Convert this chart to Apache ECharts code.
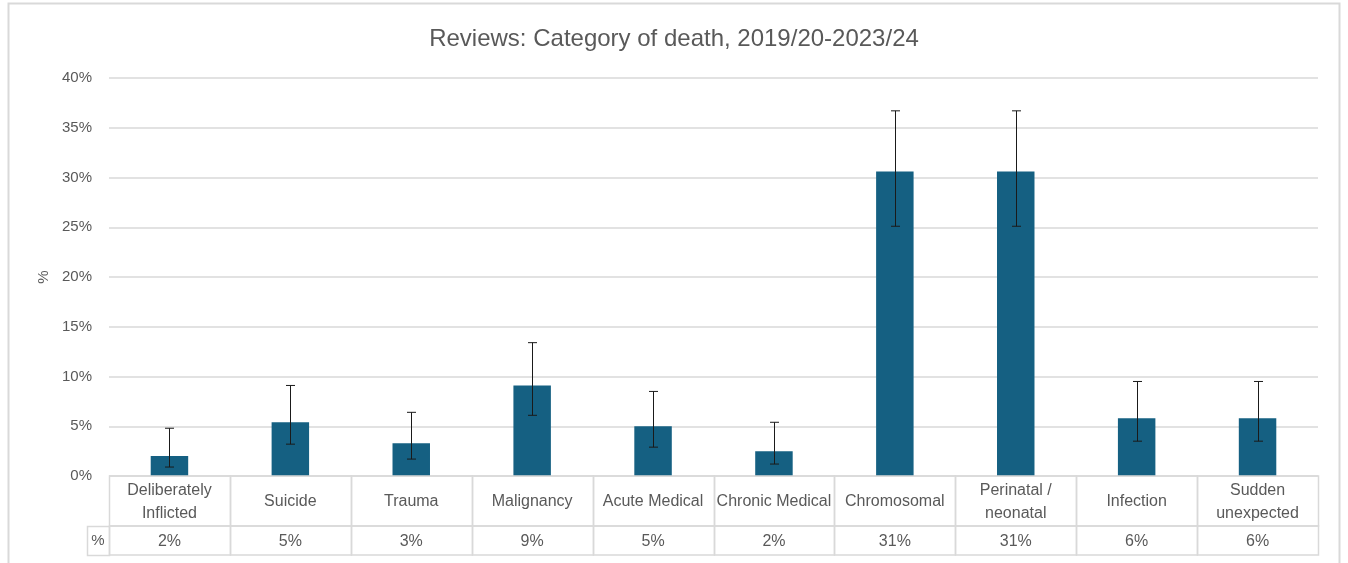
<!DOCTYPE html>
<html>
<head>
<meta charset="utf-8">
<script src="https://cdn.jsdelivr.net/npm/echarts@6/dist/echarts.min.js"></script>
<style>
html,body{margin:0;padding:0;background:#fff;}
#chart{width:1348px;height:563px;}
</style>
</head>
<body>
<div id="chart"></div>
<script>
const categories = ['Deliberately\nInflicted','Suicide','Trauma','Malignancy','Acute Medical','Chronic Medical','Chromosomal','Perinatal /\nneonatal','Infection','Sudden\nunexpected'];
const values = [2.0, 5.4, 3.3, 9.1, 5.0, 2.5, 30.6, 30.6, 5.8, 5.8];
const lowerBounds = [0.9, 3.2, 1.7, 6.1, 2.9, 1.2, 25.1, 25.1, 3.5, 3.5];
const upperBounds = [4.8, 9.1, 6.4, 13.4, 8.5, 5.4, 36.7, 36.7, 9.5, 9.5];
const tableLabels = ['2%','5%','3%','9%','5%','2%','31%','31%','6%','6%'];
const yTicks = [0, 5, 10, 15, 20, 25, 30, 35, 40];

const FONT = '"Liberation Sans", Arial, sans-serif';
const TXT = '#595959';
const GRID = '#D9D9D9';

const chart = echarts.init(document.getElementById('chart'));

const errData = categories.map((c, i) => [i, lowerBounds[i], upperBounds[i]]);
const tableData = categories.map((c, i) => [i, categories[i], tableLabels[i]]);

chart.setOption({
  animation: false,
  backgroundColor: '#fff',
  title: {
    text: 'Reviews: Category of death, 2019/20-2023/24',
    left: 'center',
    top: 22,
    textStyle: {fontFamily: FONT, fontSize: 24, fontWeight: 'normal', color: TXT}
  },
  graphic: [
    {type: 'rect', shape: {x: 8.5, y: 3.5, width: 1331, height: 580}, style: {fill: 'none', stroke: GRID, lineWidth: 2}, silent: true, z: -1},
    {type: 'rect', shape: {x: 87.5, y: 526.5, width: 22, height: 29}, style: {fill: 'none', stroke: GRID, lineWidth: 1.5}, silent: true},
    {type: 'text', x: 98, y: 541, style: {text: '%', fill: TXT, font: '15px ' + FONT, textAlign: 'center', textVerticalAlign: 'middle'}, silent: true}
  ],
  grid: [
    {left: 109, right: 30, top: 78, bottom: 87, containLabel: false},
    {left: 109, right: 30, top: 476, height: 79, containLabel: false}
  ],
  xAxis: [
    {type: 'category', gridIndex: 0, data: categories, boundaryGap: true,
     axisLine: {show: false}, axisTick: {show: false}, axisLabel: {show: false}, splitLine: {show: false}},
    {type: 'category', gridIndex: 1, data: categories, boundaryGap: true, show: false}
  ],
  yAxis: [
    {type: 'value', gridIndex: 0, min: 0, max: 40, interval: 5,
     name: '%', nameLocation: 'middle', nameGap: 56, nameRotate: 90,
     nameTextStyle: {fontFamily: FONT, fontSize: 15, color: TXT},
     axisLine: {show: false}, axisTick: {show: false},
     axisLabel: {formatter: '{value}%', fontFamily: FONT, fontSize: 15, color: TXT, margin: 17},
     splitLine: {show: true, lineStyle: {color: GRID, width: 1.5}}},
    {type: 'value', gridIndex: 1, min: 0, max: 79, inverse: true, show: false}
  ],
  series: [
    {
      type: 'bar', xAxisIndex: 0, yAxisIndex: 0,
      data: values, barWidth: '31%',
      itemStyle: {color: '#156082'}, z: 2
    },
    {
      type: 'custom', xAxisIndex: 0, yAxisIndex: 0, z: 3,
      data: errData,
      renderItem: function (params, api) {
        const lo = api.coord([api.value(0), api.value(1)]);
        const hi = api.coord([api.value(0), api.value(2)]);
        const x = Math.round(lo[0]) + 0.5;
        const hw = 4.5;
        const st = {stroke: '#1a1a1a', lineWidth: 1};
        return {type: 'group', children: [
          {type: 'line', shape: {x1: x, y1: hi[1], x2: x, y2: lo[1]}, style: st},
          {type: 'line', shape: {x1: x - hw, y1: hi[1], x2: x + hw, y2: hi[1]}, style: st},
          {type: 'line', shape: {x1: x - hw, y1: lo[1], x2: x + hw, y2: lo[1]}, style: st}
        ]};
      }
    },
    {
      type: 'custom', xAxisIndex: 1, yAxisIndex: 1, z: 3,
      data: tableData,
      encode: {x: 0},
      renderItem: function (params, api) {
        const i = api.value(0);
        const c = api.coord([i, 0]);
        const w = api.size([1, 0])[0];
        const top = api.coord([i, 0])[1];
        const mid = api.coord([i, 50])[1];
        const bot = api.coord([i, 79])[1];
        const x0 = Math.round(c[0] - w / 2) + 0.5;
        const x1 = Math.round(c[0] + w / 2) + 0.5;
        const st = {fill: 'none', stroke: GRID, lineWidth: 1.5};
        const name = categories[i];
        const lab = tableLabels[i];
        return {type: 'group', children: [
          {type: 'rect', shape: {x: x0, y: top, width: x1 - x0, height: mid - top}, style: st},
          {type: 'rect', shape: {x: x0, y: mid, width: x1 - x0, height: bot - mid}, style: st},
          {type: 'text', x: c[0], y: (top + mid) / 2 + 1, style: {text: name, fill: TXT, font: '16px ' + FONT, align: 'center', verticalAlign: 'middle', lineHeight: 23}},
          {type: 'text', x: c[0], y: (mid + bot) / 2 + 1, style: {text: lab, fill: TXT, font: '16px ' + FONT, align: 'center', verticalAlign: 'middle'}}
        ]};
      }
    }
  ]
});
</script>
</body>
</html>
